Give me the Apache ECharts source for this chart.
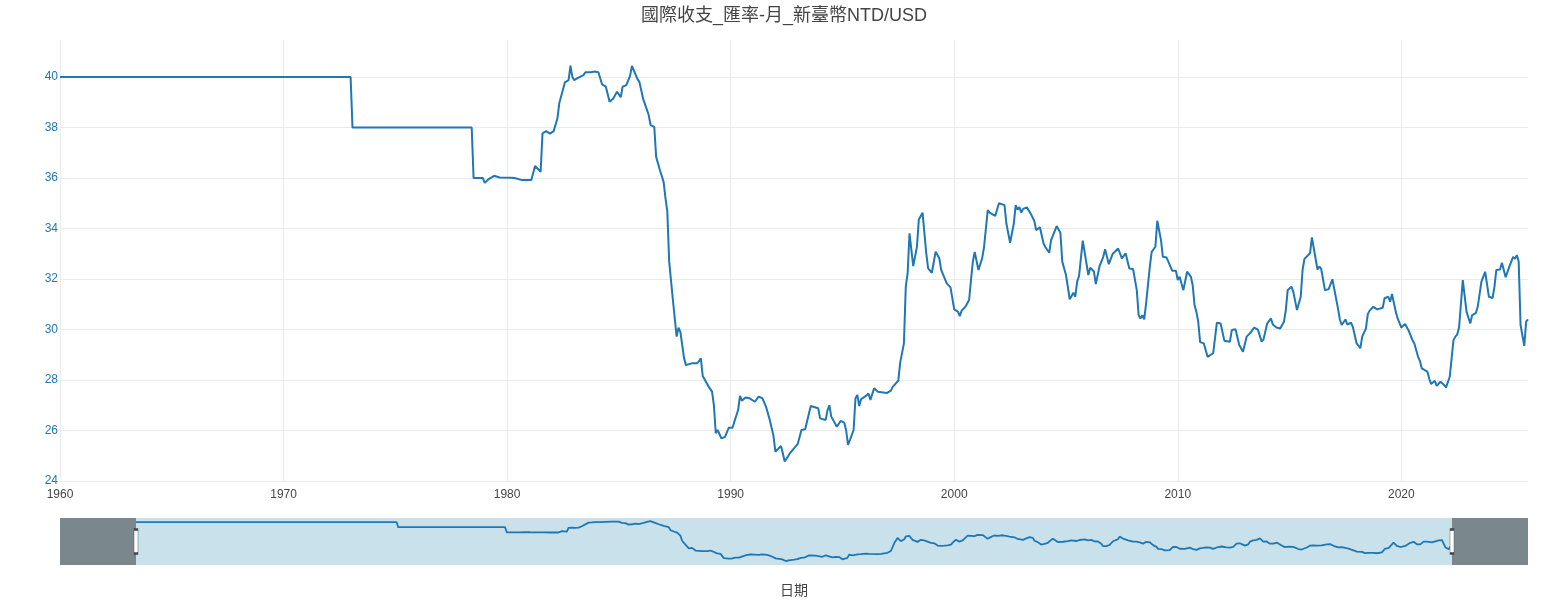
<!DOCTYPE html>
<html>
<head>
<meta http-equiv="Content-Type" content="text/html; charset=utf-8" />
<title>國際收支_匯率-月_新臺幣NTD/USD</title>
<style type="text/css">
html,body{height:100%;margin:0px;padding:0px;background:#fff}
#chart{width:1568px;height:600px}
</style>
<script src="https://cdn.jsdelivr.net/npm/echarts@6/dist/echarts.min.js"></script>
</head>
<body>
<div id="chart"></div>
<script type="text/javascript">
// 月份 (only the turning points)
var months = [
'1960-01','1973-01','1973-02','1978-06','1978-07','1978-12','1979-01','1979-03','1979-06','1979-09',
'1980-03','1980-05','1980-09','1981-02','1981-04','1981-07','1981-08','1981-10','1981-12','1982-02',
'1982-04','1982-05','1982-08','1982-10','1982-11','1982-12','1983-01','1983-03','1983-06','1983-07',
'1983-10','1983-12','1984-02','1984-04','1984-05','1984-06','1984-08','1984-10','1984-12','1985-02',
'1985-03','1985-05','1985-07','1985-08','1985-09','1985-11','1985-12','1986-02','1986-05','1986-06',
'1986-08','1986-09','1986-11','1987-01','1987-02','1987-03','1987-04','1987-06','1987-07','1987-08',
'1987-09','1987-10','1987-12','1988-01','1988-04','1988-07','1988-08','1988-09','1988-10','1989-01',
'1989-03','1989-04','1989-05','1989-06','1989-08','1989-10','1989-12','1990-02','1990-03','1990-05',
'1990-06','1990-07','1990-09','1990-11','1990-12','1991-02','1991-04','1991-06','1991-08','1991-10',
'1991-12','1992-01','1992-04','1992-05','1992-06','1992-07','1992-09','1992-11','1993-01','1993-02',
'1993-03','1993-04','1993-05','1993-08','1993-09','1993-12','1994-01','1994-04','1994-05','1994-06',
'1994-07','1994-10','1994-11','1994-12','1995-02','1995-03','1995-04','1995-05','1995-07','1995-08',
'1995-09','1995-10','1995-11','1996-01','1996-03','1996-04','1996-06','1996-08','1996-09','1997-01',
'1997-02','1997-03','1997-04','1997-07','1997-08','1997-09','1997-10','1997-11','1997-12','1998-01',
'1998-03','1998-05','1998-06','1998-07','1998-08','1998-09','1998-10','1998-11','1999-01','1999-03',
'1999-05','1999-06','1999-09','1999-11','1999-12','2000-01','2000-03','2000-04','2000-05','2000-07',
'2000-09','2000-10','2000-11','2000-12','2001-02','2001-04','2001-05','2001-07','2001-08','2001-11',
'2002-01','2002-02','2002-04','2002-05','2002-07','2002-09','2002-10','2002-11','2002-12','2003-01',
'2003-02','2003-04','2003-06','2003-08','2003-09','2003-11','2003-12','2004-01','2004-02','2004-04',
'2004-05','2004-08','2004-10','2004-11','2005-01','2005-03','2005-05','2005-06','2005-07','2005-08',
'2005-10','2005-11','2006-01','2006-02','2006-04','2006-05','2006-07','2006-09','2006-10','2006-12',
'2007-02','2007-05','2007-07','2007-09','2007-10','2007-11','2008-01','2008-03','2008-04','2008-05',
'2008-06','2008-07','2008-08','2008-10','2008-11','2009-01','2009-02','2009-03','2009-04','2009-05',
'2009-07','2009-08','2009-10','2009-12','2010-01','2010-02','2010-04','2010-06','2010-08','2010-09',
'2010-10','2010-11','2010-12','2011-01','2011-03','2011-05','2011-06','2011-08','2011-10','2011-12',
'2012-02','2012-05','2012-06','2012-08','2012-10','2012-12','2013-02','2013-04','2013-05','2013-06',
'2013-08','2013-10','2013-11','2014-01','2014-03','2014-04','2014-06','2014-08','2014-10','2014-11',
'2014-12','2015-02','2015-03','2015-05','2015-07','2015-08','2015-09','2015-10','2015-12','2016-01',
'2016-02','2016-04','2016-05','2016-06','2016-08','2016-10','2016-12','2017-03','2017-04','2017-05',
'2017-07','2017-08','2017-10','2017-11','2018-01','2018-03','2018-04','2018-06','2018-07','2018-08',
'2018-10','2018-12','2019-03','2019-04','2019-06','2019-07','2019-08','2019-10','2019-11','2020-01',
'2020-03','2020-05','2020-07','2020-08','2020-10','2020-11','2020-12','2021-03','2021-04','2021-05',
'2021-07','2021-08','2021-10','2021-12','2022-01','2022-03','2022-05','2022-06','2022-07','2022-08',
'2022-10','2022-12','2023-02','2023-03','2023-05','2023-06','2023-08','2023-10','2023-12','2024-02',
'2024-03','2024-04','2024-06','2024-07','2024-09','2024-10','2024-11','2025-01','2025-02','2025-03',
'2025-04','2025-05','2025-07','2025-08','2025-09'
];
// 新臺幣兌美元
var rates = [
40.00,40.00,38.00,38.00,36.00,36.00,35.81,35.95,36.09,36.02,
36.01,36.00,35.92,35.92,36.48,36.25,37.77,37.86,37.76,37.86,
38.36,38.96,39.79,39.88,40.45,40.01,39.88,39.97,40.08,40.19,
40.19,40.22,40.19,39.71,39.75,39.62,39.02,39.15,39.42,39.20,
39.62,39.68,40.05,40.44,40.37,39.92,39.81,39.15,38.50,38.10,
38.03,36.84,36.32,35.85,35.22,34.67,32.69,31.17,31.10,29.72,
30.07,29.91,28.86,28.59,28.66,28.66,28.75,28.86,28.16,27.76,
27.54,27.00,25.89,26.02,25.69,25.75,26.11,26.11,26.35,26.81,
27.37,27.18,27.31,27.28,27.22,27.14,27.34,27.28,26.94,26.42,
25.78,25.16,25.39,25.10,24.77,24.77,25.12,25.29,25.47,25.50,
26.02,26.00,26.05,26.97,26.90,26.88,26.48,26.42,26.81,27.00,
26.55,26.15,26.20,26.38,26.31,26.00,25.43,25.62,26.02,27.28,
27.41,26.97,27.24,27.34,27.47,27.21,27.67,27.54,27.50,27.49,
27.45,27.58,27.73,27.98,28.69,28.68,29.45,31.70,32.23,33.81,
32.51,33.28,34.36,34.40,34.63,34.60,33.02,32.42,32.25,33.08,
32.82,32.36,31.83,31.67,31.60,30.80,30.71,30.53,30.75,30.90,
31.17,31.96,32.69,33.07,32.36,32.82,33.26,34.73,34.63,34.50,
35.00,35.06,34.93,34.20,33.44,34.20,34.93,34.75,34.85,34.63,
34.78,34.84,34.60,34.30,33.94,34.05,34.07,33.40,33.26,33.04,
33.54,34.10,33.83,32.69,32.16,31.20,31.46,31.30,31.90,32.12,
33.52,33.54,32.16,32.45,32.30,31.80,32.51,32.88,33.18,32.59,
32.99,33.21,32.82,33.02,32.95,32.42,32.40,31.56,30.57,30.44,
30.57,30.40,31.04,32.49,33.08,33.28,34.31,34.31,33.54,32.88,
32.85,32.90,32.33,32.33,31.96,32.09,31.56,32.29,32.10,31.76,
30.97,30.70,30.30,29.50,29.45,28.92,28.92,29.06,30.27,30.24,
29.56,29.52,29.98,30.01,29.39,29.12,29.72,29.87,29.85,30.08,
30.00,29.52,29.60,30.24,30.44,30.20,30.08,30.04,30.31,30.77,
31.56,31.70,31.50,30.77,31.30,32.36,32.80,32.86,33.02,33.65,
33.60,32.38,32.50,32.40,31.56,31.60,31.99,30.84,30.40,30.18,
30.40,30.20,30.27,30.10,29.45,29.26,29.72,30.04,30.61,30.75,
30.90,30.80,30.86,31.24,31.30,31.10,31.41,30.71,30.45,30.08,
30.22,29.95,29.58,29.45,28.92,28.75,28.46,28.33,28.05,27.84,
27.97,27.77,27.93,27.80,27.71,28.13,29.58,29.72,29.80,30.08,
31.96,30.71,30.24,30.57,30.65,30.90,31.90,32.29,31.30,31.25,
31.70,32.36,32.38,32.65,32.07,32.10,32.49,32.88,32.80,32.95,
32.69,30.18,29.35,30.31,30.40
];
var yTicks = [24,26,28,30,32,34,36,38,40];
var xTicks = [1960,1970,1980,1990,2000,2010,2020];

var FONT = '"Liberation Sans", Arial, "Noto Sans CJK TC", sans-serif';
var lineColor = '#1f77b4';

// 'YYYY-MM' -> 年 (小數)
function toYear(s){
	var p = s.split('-');
	return parseInt(p[0],10) + (parseInt(p[1],10)-1)/12;
}
var seriesData = months.map(function(m,i){ return [toYear(m), rates[i]]; });
var xFirst = seriesData[0][0], xLast = seriesData[seriesData.length-1][0];

// range slider 的範圍比資料寬一些
var pad = (xLast - xFirst) * 76 / 1316;
var sMin = xFirst - pad, sMax = xLast + pad;
var syMin = 23.2, syMax = 41.6;

var gridLines = yTicks.map(function(v){ return {yAxis: v}; })
	.concat(xTicks.map(function(v){ return {xAxis: v}; }));

var option = {
	animation: false,
	backgroundColor: '#fff',
	textStyle: {fontFamily: FONT},
	title: {
		text: '國際收支_匯率-月_新臺幣NTD/USD',
		left: 'center',
		top: 2,
		textStyle: {fontSize: 18, fontWeight: 'normal', color: '#444', fontFamily: FONT}
	},
	grid: [
		{left: 60, right: 40, top: 40, height: 441, outerBoundsMode: 'none', containLabel: false},
		{left: 60, right: 40, top: 518, height: 47, outerBoundsMode: 'none', containLabel: false}
	],
	xAxis: [
		{
			type: 'value', gridIndex: 0,
			min: 1960, max: xLast, interval: 10,
			axisLine: {show: false}, axisTick: {show: false}, splitLine: {show: false},
			axisLabel: {
				color: '#444', fontSize: 12, margin: 8,
				formatter: function(v){
					var r = Math.round(v);
					return (Math.abs(v - r) < 1e-6 && r % 10 === 0) ? String(r) : '';
				}
			},
			name: '日期', nameLocation: 'middle', nameGap: 103,
			nameTextStyle: {color: '#444', fontSize: 14, fontFamily: FONT}
		},
		{
			type: 'value', gridIndex: 1, min: sMin, max: sMax, show: false
		}
	],
	yAxis: [
		{
			type: 'value', gridIndex: 0,
			min: 24, max: 41.47, interval: 2,
			axisLine: {show: false}, axisTick: {show: false}, splitLine: {show: false},
			axisLabel: {
				color: lineColor, fontSize: 12, margin: 2,
				formatter: function(v){
					return (v % 2 === 0 && v <= 40) ? String(v) : '';
				}
			}
		},
		{
			type: 'value', gridIndex: 1, min: syMin, max: syMax, show: false
		}
	],
	series: [
		{
			// 格線
			type: 'line', xAxisIndex: 0, yAxisIndex: 0, data: [], z: 0, silent: true,
			markLine: {
				silent: true, symbol: 'none', animation: false, z: 0,
				label: {show: false},
				lineStyle: {color: '#ebebeb', width: 1, type: 'solid'},
				data: gridLines
			}
		},
		{
			name: '匯率',
			type: 'line', xAxisIndex: 0, yAxisIndex: 0,
			data: seriesData,
			showSymbol: false, symbol: 'none', z: 3,
			lineStyle: {color: lineColor, width: 2},
			itemStyle: {color: lineColor}
		},
		{
			// slider 背景
			type: 'line', xAxisIndex: 1, yAxisIndex: 1, data: [], z: 0, silent: true,
			markArea: {
				silent: true, z: 0,
				itemStyle: {color: '#c8e1ea', opacity: 1},
				data: [[{xAxis: sMin}, {xAxis: sMax}]]
			}
		},
		{
			type: 'line', xAxisIndex: 1, yAxisIndex: 1,
			data: seriesData,
			showSymbol: false, symbol: 'none', z: 2, silent: true,
			lineStyle: {color: lineColor, width: 1.8}
		},
		{
			// slider 遮罩
			type: 'line', xAxisIndex: 1, yAxisIndex: 1, data: [], z: 4, silent: true,
			markArea: {
				silent: true, z: 4,
				itemStyle: {color: '#7a878d', opacity: 1},
				data: [
					[{xAxis: sMin}, {xAxis: xFirst}],
					[{xAxis: xLast}, {xAxis: sMax}]
				]
			}
		},
		{
			// slider 把手
			type: 'line', xAxisIndex: 1, yAxisIndex: 1, data: [], z: 5, silent: true,
			markPoint: {
				silent: true, z: 6,
				symbol: 'rect', symbolSize: [4, 24],
				label: {show: false},
				itemStyle: {color: '#fff', borderColor: '#444', borderWidth: 1},
				data: [
					{coord: [xFirst, (syMin + syMax) / 2]},
					{coord: [xLast, (syMin + syMax) / 2]}
				]
			}
		}
	]
};

echarts.init(document.getElementById('chart')).setOption(option);
</script>
</body>
</html>
